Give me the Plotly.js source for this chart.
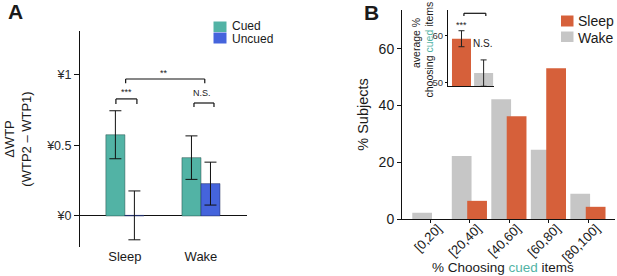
<!DOCTYPE html>
<html>
<head>
<meta charset="utf-8">
<script src="https://cdn.plot.ly/plotly-3.0.1.min.js"></script>
<style>html,body{margin:0;padding:0;background:#fff;}#chart{width:617px;height:276px;}</style>
</head>
<body>
<div id="chart"></div>
<script>
// ---- data ----
const groupsA = ['Sleep', 'Wake'];
const cuedA = [0.575, 0.413];
const cuedErrA = [0.170, 0.154];
const uncuedA = [0.004, 0.229];
const uncuedErrA = [0.173, 0.152];
const tickValsA = [0, 0.5, 1];
const tickTextA = ['¥0', '¥0.5', '¥1'];

const binsB = ['[0,20]', '[20,40]', '[40,60]', '[60,80]', '[80,100]'];
const sleepB = [0, 6.4, 36.2, 53.2, 4.3];
const wakeB = [2.2, 22.2, 42.2, 24.4, 8.9];
const tickValsB = [0, 20, 40, 60];

const insetGroups = ['Sleep', 'Wake'];
const insetMean = [59.4, 52.1];
const insetErr = [1.7, 2.8];
const tickValsInset = [50, 60];

// ---- style ----
const W = 617, H = 276;
const fx = p => p / W;
const fy = p => 1 - p / H;
const TEAL = '#52b3a5', BLUE = '#4564dc', ORANGE = '#d6603a', GRAY = '#c6c6c6';
const FONT = 'Arial, "Liberation Sans", sans-serif';
const TXT = '#1a1a1a';

const traces = [
  {type: 'bar', name: 'Cued', x: groupsA, y: cuedA, xaxis: 'x', yaxis: 'y',
   marker: {color: TEAL, line: {color: 'rgba(30,70,65,0.6)', width: 0.8}},
   error_y: {type: 'data', array: cuedErrA, visible: true, color: '#111', thickness: 1, width: 6},
   showlegend: false},
  {type: 'bar', name: 'Uncued', x: groupsA, y: uncuedA, xaxis: 'x', yaxis: 'y',
   marker: {color: BLUE, line: {color: 'rgba(30,40,90,0.6)', width: 0.8}},
   error_y: {type: 'data', array: uncuedErrA, visible: true, color: '#111', thickness: 1, width: 6},
   showlegend: false},
  {type: 'bar', name: 'Wake', x: binsB, y: wakeB, xaxis: 'x2', yaxis: 'y2',
   offset: -0.45, width: 0.5, marker: {color: GRAY}, showlegend: false},
  {type: 'bar', name: 'Sleep', x: binsB, y: sleepB, xaxis: 'x2', yaxis: 'y2',
   offset: -0.06, width: 0.5, marker: {color: ORANGE}, showlegend: false},
  {type: 'bar', name: 'average', x: insetGroups, y: insetMean, xaxis: 'x3', yaxis: 'y3',
   offset: -0.43, width: 0.86, marker: {color: [ORANGE, GRAY]},
   error_y: {type: 'data', array: insetErr, visible: true, color: '#222', thickness: 1, width: 3},
   showlegend: false}
];

function line(xref, yref, x0, y0, x1, y1) {
  return {type: 'line', xref, yref, x0, y0, x1, y1, line: {color: '#111', width: 1.2}};
}
function bracket(xref, yref, xa, xb, ytop, ybot) {
  return [line(xref, yref, xa, ytop, xb, ytop), line(xref, yref, xa, ytop, xa, ybot), line(xref, yref, xb, ytop, xb, ybot)];
}
function rect(x0, y0, x1, y1, color) {
  return {type: 'rect', xref: 'paper', yref: 'paper', x0: fx(x0), x1: fx(x1), y0: fy(y1), y1: fy(y0),
          fillcolor: color, line: {width: 0}};
}
function txt(text, xref, yref, x, y, size, opts) {
  return Object.assign({text, xref, yref, x, y, showarrow: false, borderpad: 0,
                        xanchor: 'center', yanchor: 'middle',
                        font: {size, color: TXT, family: FONT}}, opts || {});
}

const shapes = [].concat(
  bracket('x', 'y', 0.01, 1.05, 0.97, 0.94),
  bracket('x', 'y', -0.118, 0.158, 0.829, 0.793),
  bracket('x', 'y', 0.908, 1.171, 0.80, 0.772),
  bracket('x3', 'y3', 0.11, 1.1, 64.8, 64.2),
  [rect(213.5, 21.5, 226.5, 32, TEAL), rect(213.5, 32.5, 226.5, 43.5, BLUE),
   rect(561, 15.5, 573.5, 26.5, ORANGE), rect(561, 31.5, 573.5, 42, GRAY)]
);

const annotations = [
  txt('<b>A</b>', 'paper', 'paper', fx(15), fy(12), 21),
  txt('<b>B</b>', 'paper', 'paper', fx(371), fy(12.5), 21),
  txt('**', 'x', 'y', 0.51, 1.01, 9),
  txt('***', 'x', 'y', 0.02, 0.88, 9),
  txt('N.S.', 'x', 'y', 1.01, 0.87, 9),
  txt('***', 'x3', 'y3', 0, 62.4, 9),
  txt('N.S.', 'x3', 'y3', 0.93, 58.3, 10),
  txt('**', 'x3', 'y3', 0.6, 65.6, 10),
  txt('Cued', 'paper', 'paper', fx(231), fy(26.5), 12, {xanchor: 'left'}),
  txt('Uncued', 'paper', 'paper', fx(231), fy(38.5), 12, {xanchor: 'left'}),
  txt('Sleep', 'paper', 'paper', fx(577), fy(21), 14, {xanchor: 'left'}),
  txt('Wake', 'paper', 'paper', fx(577), fy(37.5), 14, {xanchor: 'left'}),
  // axis titles placed precisely
  txt('% Choosing <span style="color:' + TEAL + '">cued</span> items', 'paper', 'paper', fx(502.5), fy(267.5), 13.5),
  txt('average %', 'paper', 'paper', fx(416), fy(43), 10.5, {textangle: -90}),
  txt('choosing <span style="color:' + TEAL + '">cued</span> items', 'paper', 'paper', fx(428.5), fy(50), 10.5, {textangle: -90})
];

const layout = {
  width: W, height: H,
  margin: {l: 0, r: 0, t: 0, b: 0},
  paper_bgcolor: '#fff', plot_bgcolor: 'rgba(0,0,0,0)',
  font: {family: FONT, color: TXT, size: 12},
  barmode: 'group', bargap: 0.5, bargroupgap: 0,
  showlegend: false,
  xaxis: {domain: [fx(80), fx(247)], anchor: 'y', type: 'category', range: [-0.59, 1.605],
          showline: false, ticks: '', showgrid: false, zeroline: false,
          tickfont: {size: 13, color: TXT}},
  yaxis: {domain: [fy(247), fy(31)], anchor: 'x', range: [-0.22, 1.31],
          showline: true, linecolor: '#111', linewidth: 1, ticks: 'outside', ticklen: 5, tickcolor: '#111',
          tickvals: tickValsA, ticktext: tickTextA, tickfont: {size: 12.5, color: '#2a2a2a'},
          showgrid: false, zeroline: true, zerolinecolor: '#111', zerolinewidth: 1,
          title: {text: 'ΔWTP<br>(WTP2 – WTP1)', font: {size: 13, color: TXT}, standoff: 11}},
  xaxis2: {domain: [fx(402), fx(615)], anchor: 'y2', type: 'category', range: [-0.71, 4.68],
           showline: true, linecolor: '#111', linewidth: 1, ticks: 'outside', ticklen: 3, tickcolor: '#111',
           tickangle: -45, tickfont: {size: 13, color: TXT}, showgrid: false, zeroline: false,
           ticklabelshift: 8, ticklabelstandoff: -7},
  yaxis2: {domain: [fy(219), fy(10)], anchor: 'x2', range: [0, 73.7],
           showline: true, linecolor: '#111', linewidth: 1, ticks: 'outside', ticklen: 4, tickcolor: '#111',
           tickvals: tickValsB, tickfont: {size: 14, color: TXT}, showgrid: false, zeroline: false,
           title: {text: '% Subjects', font: {size: 14.5, color: TXT}, standoff: 6}},
  xaxis3: {domain: [fx(448), fx(494)], anchor: 'y3', type: 'category', range: [-0.61, 1.47],
           showline: true, linecolor: '#111', linewidth: 1, ticks: '', showticklabels: false,
           showgrid: false, zeroline: false},
  yaxis3: {domain: [fy(86), fy(10)], anchor: 'x3', range: [49.36, 65.5],
           showline: true, linecolor: '#111', linewidth: 1, ticks: 'outside', ticklen: 2, tickcolor: '#111',
           tickvals: tickValsInset, tickfont: {size: 9.5, color: '#333'}, showgrid: false, zeroline: false},
  shapes, annotations
};

Plotly.newPlot('chart', traces, layout, {staticPlot: true, displayModeBar: false});
</script>
</body>
</html>
